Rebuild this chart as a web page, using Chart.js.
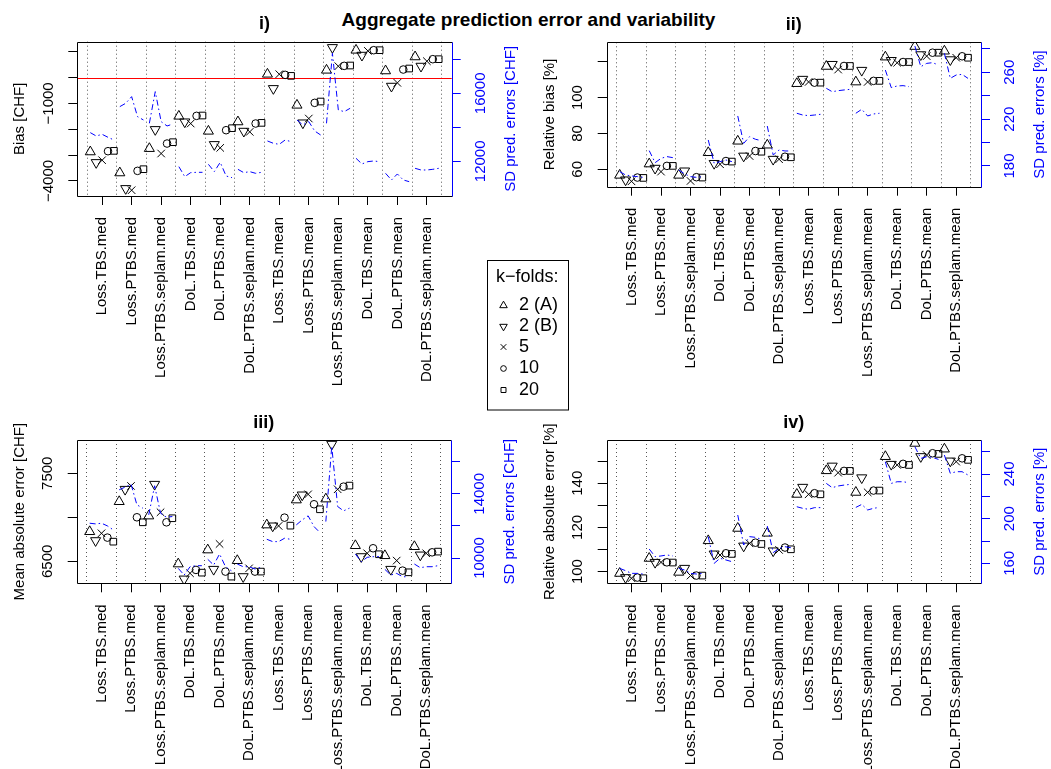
<!DOCTYPE html>
<html>
<head>
<meta charset="utf-8">
<script src="https://cdn.jsdelivr.net/npm/chart.js@4/dist/chart.umd.min.js"></script>
<style>
  body { margin: 0; background: #fff; width: 1051px; height: 769px; position: relative; overflow: hidden;
         font-family: "Liberation Sans", Arial, Helvetica, sans-serif; }
  canvas { position: absolute; left: 0; top: 0; }
  #mainTitle { position: absolute; left: 0; top: 10px; width: 1057px; text-align: center;
               font-weight: bold; font-size: 19px; line-height: 19px; color: #000; }
</style>
</head>
<body>
<div id="mainTitle">Aggregate prediction error and variability</div>
<canvas id="p1" width="1051" height="769"></canvas>
<canvas id="p2" width="1051" height="769"></canvas>
<canvas id="p3" width="1051" height="769"></canvas>
<canvas id="p4" width="1051" height="769"></canvas>
<script>
const FONT = '"Liberation Sans", Arial, Helvetica, sans-serif';
Chart.defaults.font.family = FONT;

// categories on the x axis, 5 k-fold settings per category
const categories = ['Loss.TBS.med', 'Loss.PTBS.med', 'Loss.PTBS.seplam.med', 'DoL.TBS.med', 'DoL.PTBS.med',
  'DoL.PTBS.seplam.med', 'Loss.TBS.mean', 'Loss.PTBS.mean', 'Loss.PTBS.seplam.mean', 'DoL.TBS.mean',
  'DoL.PTBS.mean', 'DoL.PTBS.seplam.mean'];
const foldLabels = ['2 (A)', '2 (B)', '5', '10', '20'];

// i) bias [CHF]
const biasA  = [-2874, -3686, -2745, -1495, -2075, -1714, 129, -1070, 284, 1057, 258, 799];
const biasB  = [-3286, -4291, -2010, -1714, -2590, -2075, -425, -1753, 1160, 863, -335, 438];
const bias5  = [-3196, -4356, -2938, -1778, -2719, -2100, 129, -1585, 438, 1031, -206, 631];
const bias10 = [-2848, -3608, -2552, -1482, -2036, -1778, 103, -979, 451, 1057, 309, 709];
const bias20 = [-2835, -3544, -2500, -1469, -1959, -1753, 64, -928, 464, 1057, 348, 709];
const biasSD = [
  13686, 13490, 13588, 13412, 13255,  15216, 15412, 15804, 14627, 14431,
  14235, 16098, 14333, 14078, 14196,  11686, 11098, 11333, 11353, 11353,
  11824, 11392, 11941, 11137, 11039,  11529, 11333, 11392, 11294, 11353,
  13196, 13059, 13000, 13255, 13157,  14431, 14137, 14333, 13784, 13549,
  14235, 18353, 15020, 14922, 15118,  12176, 11843, 11980, 12020, 11980,
  11294, 10902, 11255, 10902, 10804,  11588, 11490, 11490, 11529, 11588];

// ii) relative bias [%]
const relBiasA  = [56.7, 63.0, 56.7, 69.3, 75.7, 73.5, 107.8, 117.4, 108.7, 122.6, 128.5, 125.9];
const relBiasB  = [54.1, 60.6, 59.1, 63.3, 67.4, 65.6, 110.2, 118.5, 115.2, 120.7, 123.9, 121.1];
const relBias5  = [53.3, 58.7, 53.5, 62.8, 67.4, 65.6, 108.7, 115.6, 108.7, 119.4, 123.1, 122.2];
const relBias10 = [55.4, 61.9, 55.6, 64.6, 70.2, 67.0, 108.3, 117.6, 109.3, 119.8, 125.0, 123.0];
const relBias20 = [55.2, 61.9, 55.4, 64.3, 69.8, 66.7, 108.3, 117.6, 109.3, 119.8, 125.0, 122.2];
const relBiasSD = [
  175.2, 172.3, 171.5, 170.9, 170.3,  193.1, 182.8, 186.5, 188.0, 187.1,
  176.6, 173.2, 170.9, 170.3, 170.9,  202.2, 182.3, 183.7, 185.1, 183.7,
  222.7, 199.3, 205.0, 202.8, 201.6,  214.1, 189.4, 193.7, 192.8, 192.8,
  225.0, 223.5, 223.0, 223.5, 224.1,  246.3, 243.4, 244.3, 244.9, 245.4,
  225.0, 228.4, 222.7, 224.4, 225.0,  261.9, 246.9, 248.3, 248.6, 247.7,
  282.4, 264.8, 267.6, 268.2, 266.2,  276.2, 254.8, 257.7, 258.2, 254.8];

// iii) mean absolute error [CHF]
const maeA  = [6837, 7178, 7015, 6470, 6629, 6508, 6913, 7197, 7208, 6678, 6564, 6667];
const maeB  = [6735, 7318, 7375, 6299, 6409, 6326, 6902, 7254, 7830, 6553, 6409, 6572];
const mae5  = [6818, 7356, 7057, 6364, 6697, 6420, 6902, 7261, 7318, 6591, 6508, 6591];
const mae10 = [6769, 7000, 6943, 6402, 6383, 6383, 6996, 7148, 7348, 6648, 6394, 6602];
const mae20 = [6723, 6943, 6989, 6371, 6326, 6383, 6905, 7091, 7360, 6580, 6375, 6610];
const maeSD = [
  12167, 12125, 12167, 12000, 11750,  14250, 14417, 14604, 13313, 13104,
  12688, 14500, 12792, 12542, 12583,   9354,  8938,  9458,  9521,  9521,
   9917,  9563, 10250,  9458,  9208,   9625,  9458,  9458,  9313,  9417,
  11167, 11021, 11021, 11229, 11167,  12063, 12375, 12625, 11958, 11583,
  12271, 16958, 13208, 12938, 13104,  10250,  9771, 10042, 10083, 10083,
   9292,  8938,  9042,  8833,  8833,   9625,  9396,  9458,  9458,  9521];

// iv) relative absolute error [%]
const relAbsA  = [99.2, 106.0, 99.7, 114.0, 119.6, 117.4, 135.0, 145.7, 135.9, 152.1, 158.1, 155.5];
const relAbsB  = [97.3, 104.2, 101.5, 108.0, 111.6, 109.4, 138.2, 147.8, 142.5, 148.6, 152.1, 150.1];
const relAbs5  = [97.0, 104.2, 98.2, 107.5, 112.8, 109.8, 135.0, 144.8, 135.9, 148.3, 152.8, 149.8];
const relAbs10 = [97.3, 104.2, 98.2, 108.3, 113.1, 110.9, 135.5, 145.6, 136.7, 148.8, 153.6, 151.3];
const relAbs20 = [97.0, 104.1, 98.2, 108.0, 112.5, 110.1, 135.0, 145.6, 136.7, 148.3, 153.3, 150.6];
const relAbsSD = [
  155.5, 153.4, 151.0, 151.0, 150.4,  172.8, 166.0, 166.6, 167.5, 166.6,
  155.5, 154.0, 151.0, 150.4, 151.0,  183.9, 160.0, 164.5, 163.0, 161.5,
  203.3, 176.4, 183.9, 183.3, 181.5,  193.4, 169.6, 173.4, 174.9, 174.0,
  210.7, 209.3, 208.4, 209.9, 209.9,  231.6, 227.8, 229.3, 230.1, 230.7,
  210.1, 212.8, 207.8, 209.3, 210.1,  251.0, 231.6, 233.1, 233.1, 232.2,
  264.5, 254.0, 255.5, 254.9, 253.1,  257.0, 240.6, 242.1, 242.1, 239.1];

// axis ticks (all tick marks) and the ones that carry a label
const biasTicks = [-4000, -3000, -2000, -1000, 0, 1000], biasTickLabels = [-4000, -1000];
const biasSDTicks = [12000, 14000, 16000, 18000], biasSDTickLabels = [12000, 16000];
const relBiasTicks = [60, 80, 100, 120], relBiasTickLabels = [60, 80, 100];
const relBiasSDTicks = [180, 200, 220, 240, 260, 280], relBiasSDTickLabels = [180, 220, 260];
const maeTicks = [6500, 7000, 7500], maeTickLabels = [6500, 7500];
const maeSDTicks = [10000, 12000, 14000, 16000], maeSDTickLabels = [10000, 14000];
const relAbsTicks = [100, 110, 120, 130, 140, 150], relAbsTickLabels = [100, 120, 140];
const relAbsSDTicks = [160, 180, 200, 220, 240, 260], relAbsSDTickLabels = [160, 200, 240];

// ---- styles ----
const BLUE = '#0000ff';
const markers = [
  { pointStyle: 'triangle', radius: 5.8, rotation: 0 },
  { pointStyle: 'triangle', radius: 5.8, rotation: 180 },
  { pointStyle: 'crossRot', radius: 5.3, rotation: 0 },
  { pointStyle: 'circle', radius: 3.8, rotation: 0 },
  { pointStyle: 'rect', radius: 4.7, rotation: 0 }
];
const nFold = foldLabels.length;
const xMin = -1.2, xMax = 62.2;
const TICK = 9;

// x ticks: group separators (dotted lines) and group centres (labels)
const xTicks = [];
categories.forEach((c, g) => { xTicks.push(g * nFold + 0.5, g * nFold + 3); });
xTicks.push(categories.length * nFold + 0.5);
const isSep = v => Math.abs(((v - 0.5) % nFold)) < 1e-6;

const mctx = document.createElement('canvas').getContext('2d');
function fmt(v) { return v < 0 ? '\u2212' + Math.abs(v) : String(v); }
function labelPad(vals, dist) {
  mctx.font = '15px ' + FONT;
  const w = Math.max(...vals.map(v => mctx.measureText(fmt(v)).width));
  return dist - TICK - w / 2;
}

// frame of the plot region, right edge in blue, optional reference line
const framePlugin = {
  id: 'frame',
  beforeDatasetsDraw(chart, args, opts) {
    if (opts.refLine === undefined) return;
    const a = chart.chartArea, ctx = chart.ctx;
    const y = Math.round(chart.scales.y.getPixelForValue(opts.refLine)) + 0.5;
    ctx.save();
    ctx.strokeStyle = '#ff0000'; ctx.lineWidth = 1;
    ctx.beginPath(); ctx.moveTo(a.left, y); ctx.lineTo(a.right, y); ctx.stroke();
    ctx.restore();
  },
  afterDraw(chart, args, opts) {
    const a = chart.chartArea, ctx = chart.ctx;
    const l = Math.round(a.left) + 0.5, r = Math.round(a.right) + 0.5;
    const t = Math.round(a.top) + 0.5, b = Math.round(a.bottom) + 0.5;
    ctx.save();
    ctx.lineWidth = 1;
    ctx.strokeStyle = '#000';
    ctx.beginPath(); ctx.moveTo(r, t); ctx.lineTo(l, t); ctx.lineTo(l, b); ctx.lineTo(r, b); ctx.stroke();
    ctx.strokeStyle = BLUE;
    ctx.beginPath(); ctx.moveTo(r, t); ctx.lineTo(r, b); ctx.stroke();
    // right axis title, read bottom to top
    const s = chart.scales.y2;
    ctx.translate(s.right - 11, (a.top + a.bottom) / 2);
    ctx.rotate(-Math.PI / 2);
    ctx.fillStyle = BLUE; ctx.font = '15px ' + FONT;
    ctx.textAlign = 'center'; ctx.textBaseline = 'middle';
    ctx.fillText(opts.rightTitle, 0, 0);
    ctx.restore();
  }
};

// k-folds legend box between the panels
const foldLegend = {
  id: 'foldLegend',
  afterDraw(chart, args, opts) {
    if (!opts.show) return;
    const ctx = chart.ctx;
    ctx.save();
    ctx.strokeStyle = '#000'; ctx.lineWidth = 1;
    ctx.strokeRect(487.5, 260.5, 81, 149.5);
    ctx.fillStyle = '#000'; ctx.font = '18px ' + FONT;
    ctx.textAlign = 'left'; ctx.textBaseline = 'middle';
    ctx.fillText('k\u2212folds:', 496, 277.5);
    const rows = [305.5, 326.5, 347, 368.5, 390];
    foldLabels.forEach((lab, i) => {
      const m = markers[i];
      ctx.fillStyle = 'rgba(0,0,0,0)';
      Chart.helpers.drawPoint(ctx, { pointStyle: m.pointStyle, rotation: m.rotation,
        radius: m.radius * 0.75, borderWidth: 1 }, 503.5, rows[i]);
      ctx.fillStyle = '#000';
      ctx.fillText(lab, 519, rows[i]);
    });
    ctx.restore();
  }
};

function makePanel(id, p) {
  const datasets = [];
  // SD of prediction errors, one broken line per category group
  const sdPts = [];
  categories.forEach((c, g) => {
    for (let f = 0; f < nFold; f++) sdPts.push({ x: g * nFold + f + 1, y: p.sd[g * nFold + f] });
    if (g < categories.length - 1) sdPts.push({ x: g * nFold + nFold + 0.5, y: null });
  });
  datasets.push({
    data: sdPts, yAxisID: 'y2', showLine: true, spanGaps: false,
    borderColor: BLUE, borderWidth: 1, borderDash: [6, 3, 1.5, 3],
    pointRadius: 0, tension: 0, fill: false
  });
  p.series.forEach((vals, f) => {
    const m = markers[f];
    datasets.push({
      data: vals.map((v, g) => ({ x: g * nFold + f + 1, y: v })),
      yAxisID: 'y', showLine: false,
      pointStyle: m.pointStyle, pointRadius: m.radius, pointRotation: m.rotation,
      pointBorderColor: '#000', pointBackgroundColor: 'rgba(0,0,0,0)', pointBorderWidth: 1
    });
  });

  const A = p.area;
  const Y_W = 70, TITLE_H = 28;
  // room below the plot for the rotated category labels
  const X_H = Math.min(230, 769 - A.bottom);
  new Chart(document.getElementById(id), {
    type: 'scatter',
    data: { datasets },
    plugins: [framePlugin, foldLegend],
    options: {
      responsive: false, animation: false, events: [],
      layout: { autoPadding: false,
        padding: { left: A.left - Y_W, right: 1051 - A.right - Y_W, top: A.top - TITLE_H, bottom: 769 - A.bottom - X_H } },
      plugins: {
        legend: { display: false }, tooltip: { enabled: false },
        title: { display: true, text: p.title, color: '#000', font: { size: 18, weight: 'bold' },
                 padding: { top: 0, bottom: TITLE_H - 21.6 } },
        frame: { refLine: p.refLine, rightTitle: p.y2Title },
        foldLegend: { show: !!p.legend }
      },
      scales: {
        x: {
          type: 'linear', position: 'bottom', min: xMin, max: xMax,
          afterBuildTicks: s => { s.ticks = xTicks.map(v => ({ value: v })); },
          afterFit: s => { s.height = X_H; },
          ticks: { autoSkip: false, minRotation: 90, maxRotation: 90, padding: 12, color: '#000',
                   font: { size: 15 },
                   callback: v => isSep(v) ? '' : categories[Math.round((v - 3) / nFold)] },
          grid: { display: true, drawOnChartArea: true, drawTicks: true, tickLength: TICK, lineWidth: 1,
                  color: c => (c.tick && isSep(c.tick.value)) ? '#555' : 'rgba(0,0,0,0)',
                  tickColor: c => (c.tick && isSep(c.tick.value)) ? 'rgba(0,0,0,0)' : '#000',
                  tickBorderDash: [] },
          border: { display: false, dash: [1, 3] }
        },
        y: {
          type: 'linear', position: 'left', min: p.yMin, max: p.yMax,
          afterBuildTicks: s => { s.ticks = p.yTicks.map(v => ({ value: v })); },
          afterFit: s => { s.width = Y_W; },
          ticks: { autoSkip: false, minRotation: 90, maxRotation: 90, crossAlign: 'center',
                   padding: labelPad(p.yShown, 28.5), color: '#000', font: { size: 15 },
                   callback: v => p.yShown.includes(v) ? fmt(v) : '' },
          grid: { display: true, drawOnChartArea: false, drawTicks: true, tickLength: TICK, tickColor: '#000' },
          border: { display: false },
          title: { display: true, text: p.yTitle, color: '#000', font: { size: 15 }, padding: { top: 4, bottom: 0 } }
        },
        y2: {
          type: 'linear', position: 'right', min: p.y2Min, max: p.y2Max,
          afterBuildTicks: s => { s.ticks = p.y2Ticks.map(v => ({ value: v })); },
          afterFit: s => { s.width = Y_W; },
          ticks: { autoSkip: false, minRotation: 90, maxRotation: 90, crossAlign: 'center',
                   padding: labelPad(p.y2Shown, 29), color: BLUE, font: { size: 15 },
                   callback: v => p.y2Shown.includes(v) ? fmt(v) : '' },
          grid: { display: true, drawOnChartArea: false, drawTicks: true, tickLength: TICK, tickColor: BLUE },
          border: { display: false }
        }
      }
    }
  });
}

makePanel('p1', {
  title: 'i)', series: [biasA, biasB, bias5, bias10, bias20], sd: biasSD, refLine: 0,
  yMin: -4580, yMax: 1385, yTicks: biasTicks, yShown: biasTickLabels, yTitle: 'Bias [CHF]',
  y2Min: 9960, y2Max: 19035, y2Ticks: biasSDTicks, y2Shown: biasSDTickLabels, y2Title: 'SD pred. errors [CHF]',
  area: { left: 77.3, right: 451.7, top: 41.7, bottom: 196 }
});
makePanel('p2', {
  title: 'ii)', series: [relBiasA, relBiasB, relBias5, relBias10, relBias20], sd: relBiasSD, legend: true,
  yMin: 50.3, yMax: 130.8, yTicks: relBiasTicks, yShown: relBiasTickLabels, yTitle: 'Relative bias [%]',
  y2Min: 162.3, y2Max: 285.6, y2Ticks: relBiasSDTicks, y2Shown: relBiasSDTickLabels, y2Title: 'SD pred. errors [%]',
  area: { left: 606.7, right: 981, top: 42.3, bottom: 186.7 }
});
makePanel('p3', {
  title: 'iii)', series: [maeA, maeB, mae5, mae10, mae20], sd: maeSD,
  yMin: 6250, yMax: 7878, yTicks: maeTicks, yShown: maeTickLabels, yTitle: 'Mean absolute error [CHF]',
  y2Min: 8424, y2Max: 17352, y2Ticks: maeSDTicks, y2Shown: maeSDTickLabels, y2Title: 'SD pred. errors [CHF]',
  area: { left: 76.7, right: 451, top: 440, bottom: 583.3 }
});
makePanel('p4', {
  title: 'iv)', series: [relAbsA, relAbsB, relAbs5, relAbs10, relAbs20], sd: relAbsSD,
  yMin: 94.7, yMax: 159.6, yTicks: relAbsTicks, yShown: relAbsTickLabels, yTitle: 'Relative absolute error [%]',
  y2Min: 142.1, y2Max: 270.5, y2Ticks: relAbsSDTicks, y2Shown: relAbsSDTickLabels, y2Title: 'SD pred. errors [%]',
  area: { left: 606.7, right: 981, top: 440, bottom: 583.3 }
});
</script>
</body>
</html>
